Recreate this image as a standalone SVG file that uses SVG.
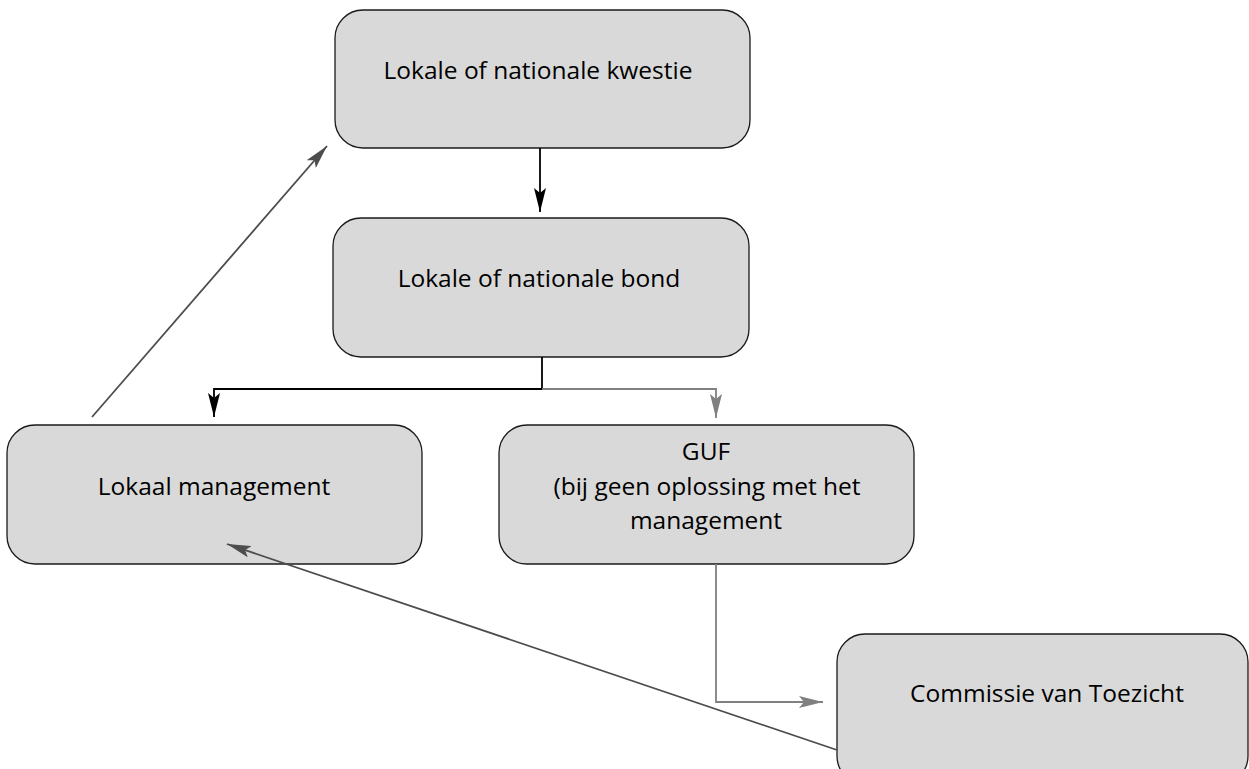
<svg xmlns="http://www.w3.org/2000/svg" width="1249" height="769" viewBox="0 0 1249 769">
<style>
.box{fill:#d9d9d9;stroke:#1a1a1a;stroke-width:1.3}
.lbl{font-family:"Open Sans","Noto Sans","Liberation Sans",sans-serif;font-size:24.5px;fill:#000;text-anchor:middle}
.c{fill:none;stroke-width:1.8}
.blk{stroke:#000}
.gry{stroke:#808080}
.dk{stroke:#4d4d4d}
</style>
<defs>
<marker id="ab" markerUnits="userSpaceOnUse" markerWidth="24" markerHeight="12" refX="24" refY="6" orient="auto"><path d="M0,0 L24,6 L0,12 L5,6 z" fill="#000"/></marker>
<marker id="ag" markerUnits="userSpaceOnUse" markerWidth="24" markerHeight="12" refX="24" refY="6" orient="auto"><path d="M0,0 L24,6 L0,12 L5,6 z" fill="#808080"/></marker>
<marker id="ad" markerUnits="userSpaceOnUse" markerWidth="24" markerHeight="12" refX="24" refY="6" orient="auto"><path d="M0,0 L24,6 L0,12 L5,6 z" fill="#4d4d4d"/></marker>
</defs>
<rect width="1249" height="769" fill="#fff"/>
<g id="node-kwestie">
<rect class="box" x="335" y="10" width="415" height="138" rx="28"/>
<text class="lbl" x="538" y="79">Lokale of nationale kwestie</text>
</g>
<g id="node-bond">
<rect class="box" x="333" y="218" width="416" height="139" rx="28"/>
<text class="lbl" x="539" y="287">Lokale of nationale bond</text>
</g>
<g id="node-lokaal">
<rect class="box" x="7" y="425" width="415" height="139" rx="28"/>
<text class="lbl" x="214" y="495">Lokaal management</text>
</g>
<g id="node-guf">
<rect class="box" x="499" y="425" width="415" height="139" rx="28"/>
<text class="lbl" x="706" y="460">GUF</text>
<text class="lbl" x="707" y="495">(bij geen oplossing met het</text>
<text class="lbl" x="706" y="529">management</text>
</g>
<g id="node-commissie">
<rect class="box" x="837" y="634" width="411" height="150" rx="28"/>
<text class="lbl" x="1047" y="702">Commissie van Toezicht</text>
</g>
<g id="connectors">
<path class="c blk" d="M540,148 L540,212" marker-end="url(#ab)"/>
<path class="c blk" d="M542,357 L542,389 L214,389 L214,417" marker-end="url(#ab)"/>
<path class="c gry" d="M542,389 L716,389 L716,418" marker-end="url(#ag)"/>
<path class="c gry" d="M716,564 L716,702 L823,702" marker-end="url(#ag)"/>
<path class="c dk" d="M92,417 L327,146" marker-end="url(#ad)"/>
<path class="c dk" d="M837,750 L227,544" marker-end="url(#ad)"/>
</g>
</svg>
